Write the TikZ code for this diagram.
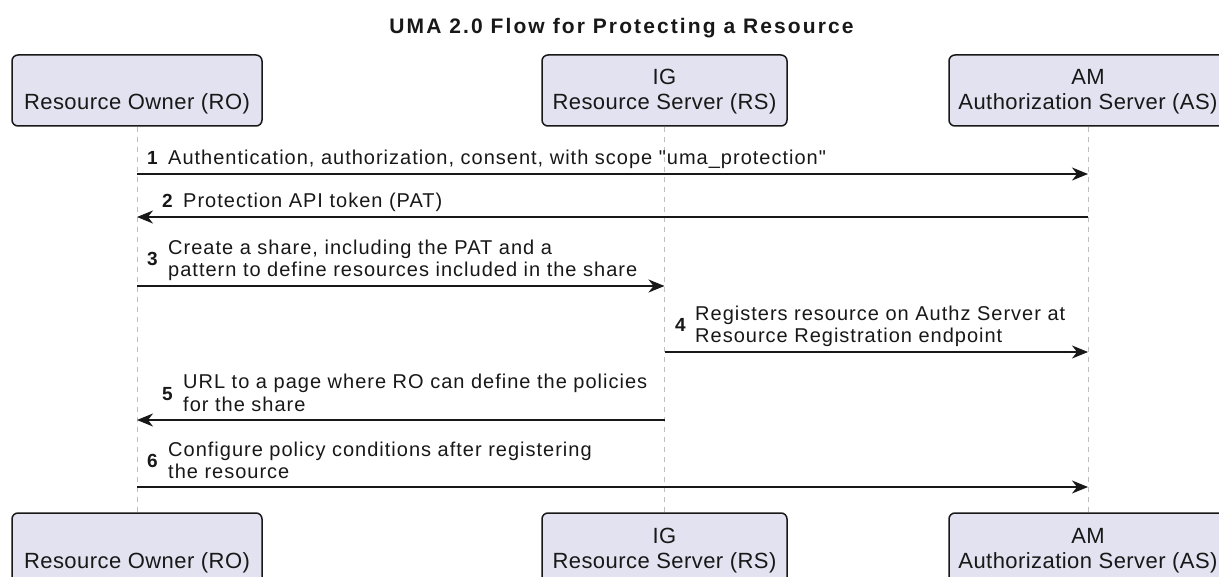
\documentclass[tikz,border=0pt]{standalone}
\usepackage{fontspec}
\setmainfont{Liberation Sans}
\newfontfamily\msgfont[LetterSpace=5]{Liberation Sans}
\newfontfamily\ttlfont[LetterSpace=10]{Liberation Sans}
\newfontfamily\partfont[LetterSpace=2]{Liberation Sans}
\usetikzlibrary{arrows.meta}
\definecolor{partfill}{HTML}{E2E2F0}
\definecolor{ink}{HTML}{181818}
\newcommand\pstr{\rule[-5.5pt]{0pt}{25pt}}
\begin{document}
\begin{tikzpicture}[x=1pt,y=-1pt,
 part/.style={draw=ink, line width=1.5pt, fill=partfill, rounded corners=6pt, minimum height=71pt, inner sep=0pt, align=center, font=\partfont\fontsize{22}{25}\selectfont, text=ink},
 life/.style={draw=gray!50, line width=1pt, dash pattern=on 5pt off 5pt},
 msg/.style={draw=ink, line width=1.5pt, -{Stealth[length=16pt,width=13pt,inset=5pt]}},
 txt/.style={anchor=base west, inner sep=0pt, font=\msgfont\fontsize{20}{22}\selectfont, text=ink},
 num/.style={anchor=base west, inner sep=0pt, font=\msgfont\bfseries\fontsize{19}{22}\selectfont, text=ink},
]
\useasboundingbox (0,0) rectangle (1219,577);
\clip (0,0) rectangle (1219,577);
\fill[white] (0,0) rectangle (1219,577);

\node[font=\ttlfont\bfseries\fontsize{21}{24}\selectfont, text=ink] (title) at (621.5,28) {UMA 2.0 Flow for Protecting a Resource};

% participants (top)
\node[part, minimum width=250pt] (rot) at (137,90.5) {\pstr\\\pstr Resource Owner (RO)};
\node[part, minimum width=245pt] (igt) at (664.5,90.5) {\pstr IG\\\pstr Resource Server (RS)};
\node[part, minimum width=278pt] (amt) at (1088,90.5) {\pstr AM\\\pstr Authorization Server (AS)};
% participants (bottom)
\node[part, minimum width=250pt] (rob) at (137,548.5) {\pstr\\\pstr Resource Owner (RO)};
\node[part, minimum width=245pt] (igb) at (664.5,548.5) {\pstr IG\\\pstr Resource Server (RS)};
\node[part, minimum width=278pt] (amb) at (1088,548.5) {\pstr AM\\\pstr Authorization Server (AS)};

% lifelines
\draw[life] (rot.south) -- (rob.north);
\draw[life] (igt.south) -- (igb.north);
\draw[life] (amt.south) -- (amb.north);

% message anchor points
\coordinate (r1) at (137,174);  \coordinate (a1) at (1088,174);
\coordinate (r2) at (137,217);  \coordinate (a2) at (1088,217);
\coordinate (r3) at (137,286);  \coordinate (i3) at (664.5,286);
\coordinate (i4) at (664.5,352);\coordinate (a4) at (1088,352);
\coordinate (r5) at (137,420);  \coordinate (i5) at (664.5,420);
\coordinate (r6) at (137,487);  \coordinate (a6) at (1088,487);

\draw[msg] (r1) -- (a1);
\draw[msg] (a2) -- (r2);
\draw[msg] (r3) -- (i3);
\draw[msg] (i4) -- (a4);
\draw[msg] (i5) -- (r5);
\draw[msg] (r6) -- (a6);

% labels
\node[num] (n1) at (147,165) {1};
\node[txt] (t1) at (168,165) {Authentication, authorization, consent, with scope "uma\_protection"};

\node[num] (n2) at (162,208) {2};
\node[txt] (t2) at (183,208) {Protection API token (PAT)};

\node[num] (n3) at (147,266) {3};
\node[txt] (t3a) at (168,255) {Create a share, including the PAT and a};
\node[txt] (t3b) at (168,277) {pattern to define resources included in the share};

\node[num] (n4) at (675,332) {4};
\node[txt] (t4a) at (695,321) {Registers resource on Authz Server at};
\node[txt] (t4b) at (695,343) {Resource Registration endpoint};

\node[num] (n5) at (162,400) {5};
\node[txt] (t5a) at (183,389) {URL to a page where RO can define the policies};
\node[txt] (t5b) at (183,411) {for the share};

\node[num] (n6) at (147,467) {6};
\node[txt] (t6a) at (168,456) {Configure policy conditions after registering};
\node[txt] (t6b) at (168,478) {the resource};
\end{tikzpicture}
\end{document}
